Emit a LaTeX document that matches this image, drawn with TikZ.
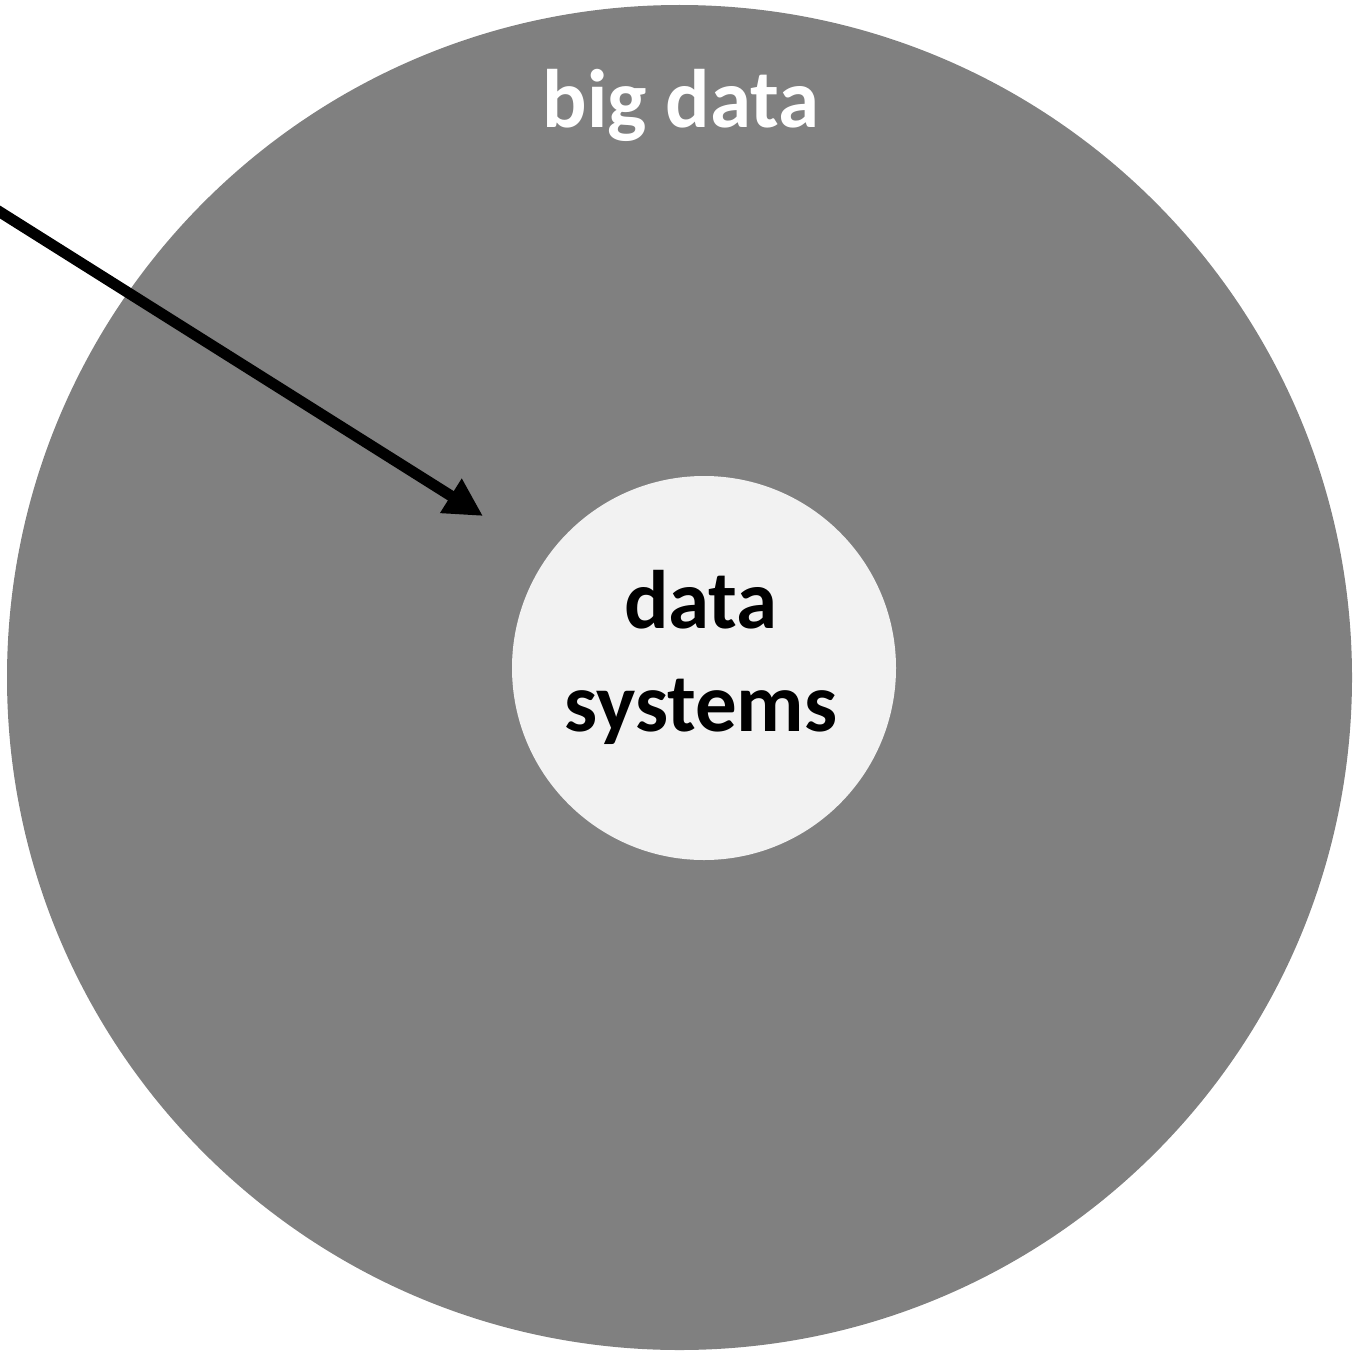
\documentclass[tikz,border=0pt]{standalone}
\usepackage{fontspec}
\setmainfont{Carlito}
\usetikzlibrary{arrows.meta}
\definecolor{biggray}{RGB}{128,128,128}
\definecolor{smallgray}{RGB}{242,242,242}
\begin{document}
\begin{tikzpicture}[x=0.5pt,y=-0.5pt,
  outer/.style={circle,fill=biggray,draw=none,minimum size=1345pt*0.5,inner sep=0pt},
  inner/.style={circle,fill=smallgray,draw=none,minimum size=384pt*0.5,inner sep=0pt},
  lbl/.style={font=\bfseries\fontsize{41.5pt}{51.5pt}\selectfont,align=center,inner sep=0pt},
  pointer/.style={line width=5.5pt,-{Triangle[length=19pt,width=19pt]}}]
\useasboundingbox (0,0) rectangle (1359,1354);
\node[outer] (bigdata) at (679.5,677.5) {};
\node[inner] (datasys) at (704,668) {};
\node[lbl,text=white,anchor=base] (bigtitle) at (681,127) {big data};
\node[lbl,text=black] (sys) at (701,657) {data\\systems};
\coordinate (arrstart) at (-8,207);
\coordinate (arrend) at (483,516);
\draw[pointer] (arrstart) -- (arrend);
\end{tikzpicture}
\end{document}
